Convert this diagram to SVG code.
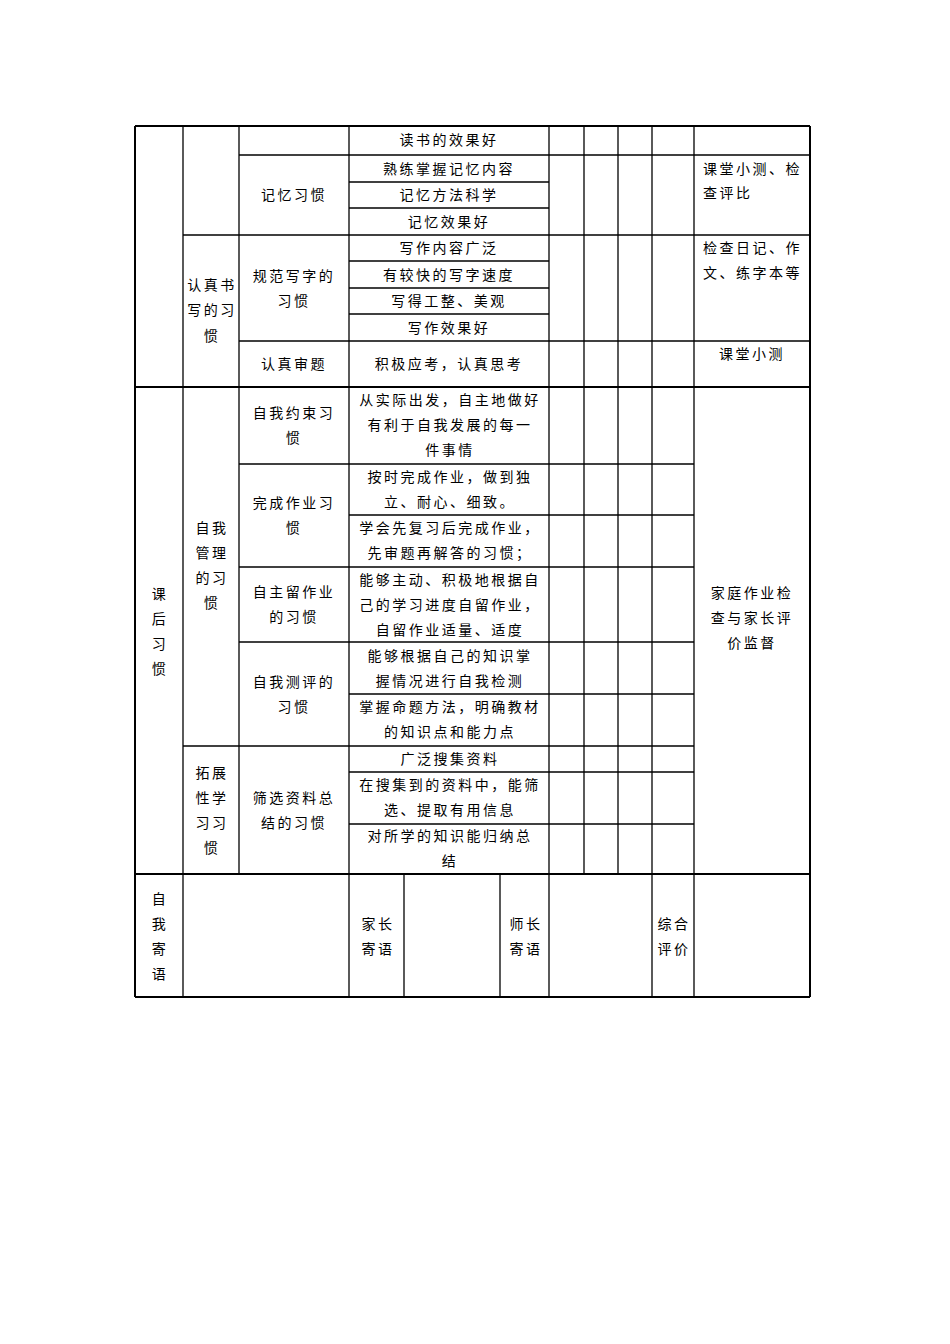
<svg xmlns="http://www.w3.org/2000/svg" width="950" height="1344" viewBox="0 0 950 1344">
<style>
line{stroke:#000;stroke-width:1.3}
.b{stroke-width:2}
text{font-family:"Noto Sans CJK SC","Liberation Serif",serif;font-size:14px;letter-spacing:2.5px;fill:#000;text-anchor:middle}
.l{text-anchor:start}
</style>
<rect width="950" height="1344" fill="#fff"/>
<g id="grid">
<line class="b" x1="135" y1="126" x2="810" y2="126"/>
<line class="b" x1="135" y1="997" x2="810" y2="997"/>
<line class="b" x1="135" y1="126" x2="135" y2="997"/>
<line class="b" x1="810" y1="126" x2="810" y2="997"/>
<line x1="183" y1="126" x2="183" y2="997"/>
<line x1="239" y1="126" x2="239" y2="874"/>
<line x1="349" y1="126" x2="349" y2="997"/>
<line x1="549" y1="126" x2="549" y2="997"/>
<line x1="584" y1="126" x2="584" y2="874"/>
<line x1="618" y1="126" x2="618" y2="874"/>
<line x1="652" y1="126" x2="652" y2="997"/>
<line x1="694" y1="126" x2="694" y2="997"/>
<line x1="404" y1="874" x2="404" y2="997"/>
<line x1="500" y1="874" x2="500" y2="997"/>
<line x1="239" y1="155" x2="810" y2="155"/>
<line x1="349" y1="182" x2="549" y2="182"/>
<line x1="349" y1="208" x2="549" y2="208"/>
<line x1="183" y1="235" x2="810" y2="235"/>
<line x1="349" y1="261" x2="549" y2="261"/>
<line x1="349" y1="288" x2="549" y2="288"/>
<line x1="349" y1="314" x2="549" y2="314"/>
<line x1="239" y1="341" x2="810" y2="341"/>
<line class="b" x1="135" y1="387" x2="810" y2="387"/>
<line x1="239" y1="464" x2="694" y2="464"/>
<line x1="349" y1="515" x2="694" y2="515"/>
<line x1="239" y1="567" x2="694" y2="567"/>
<line x1="239" y1="642" x2="694" y2="642"/>
<line x1="349" y1="694" x2="694" y2="694"/>
<line x1="183" y1="746" x2="694" y2="746"/>
<line x1="349" y1="772" x2="694" y2="772"/>
<line x1="349" y1="824" x2="694" y2="824"/>
<line class="b" x1="135" y1="874" x2="810" y2="874"/>
</g>
<g id="texts">
<text x="449" y="145">读书的效果好</text>
<text x="449" y="174">熟练掌握记忆内容</text>
<text x="449" y="200">记忆方法科学</text>
<text x="449" y="227">记忆效果好</text>
<text x="294" y="200">记忆习惯</text>
<text x="449" y="253">写作内容广泛</text>
<text x="449" y="280">有较快的写字速度</text>
<text x="449" y="306">写得工整、美观</text>
<text x="449" y="333">写作效果好</text>
<text x="294" y="281">规范写字的</text>
<text x="294" y="306">习惯</text>
<text x="212" y="290">认真书</text>
<text x="212" y="315">写的习</text>
<text x="212" y="341">惯</text>
<text x="294" y="369">认真审题</text>
<text x="449" y="369">积极应考，认真思考</text>
<text class="l" x="703" y="174">课堂小测、检</text>
<text class="l" x="703" y="198">查评比</text>
<text class="l" x="703" y="253">检查日记、作</text>
<text class="l" x="703" y="278">文、练字本等</text>
<text x="752" y="359">课堂小测</text>
<text x="160" y="599">课</text>
<text x="160" y="624">后</text>
<text x="160" y="649">习</text>
<text x="160" y="674">惯</text>
<text x="212" y="533">自我</text>
<text x="212" y="558">管理</text>
<text x="212" y="583">的习</text>
<text x="212" y="608">惯</text>
<text x="212" y="778">拓展</text>
<text x="212" y="803">性学</text>
<text x="212" y="828">习习</text>
<text x="212" y="853">惯</text>
<text x="294" y="418">自我约束习</text>
<text x="294" y="443">惯</text>
<text x="294" y="508">完成作业习</text>
<text x="294" y="533">惯</text>
<text x="294" y="597">自主留作业</text>
<text x="294" y="622">的习惯</text>
<text x="294" y="687">自我测评的</text>
<text x="294" y="712">习惯</text>
<text x="294" y="803">筛选资料总</text>
<text x="294" y="828">结的习惯</text>
<text x="450" y="405">从实际出发，自主地做好</text>
<text x="450" y="430">有利于自我发展的每一</text>
<text x="450" y="455">件事情</text>
<text x="450" y="482">按时完成作业，做到独</text>
<text x="450" y="507">立、耐心、细致。</text>
<text x="450" y="533">学会先复习后完成作业，</text>
<text x="450" y="558">先审题再解答的习惯；</text>
<text x="450" y="585">能够主动、积极地根据自</text>
<text x="450" y="610">己的学习进度自留作业，</text>
<text x="450" y="635">自留作业适量、适度</text>
<text x="450" y="661">能够根据自己的知识掌</text>
<text x="450" y="686">握情况进行自我检测</text>
<text x="450" y="712">掌握命题方法，明确教材</text>
<text x="450" y="737">的知识点和能力点</text>
<text x="450" y="764">广泛搜集资料</text>
<text x="450" y="790">在搜集到的资料中，能筛</text>
<text x="450" y="815">选、提取有用信息</text>
<text x="450" y="841">对所学的知识能归纳总</text>
<text x="450" y="866">结</text>
<text x="752" y="598">家庭作业检</text>
<text x="752" y="623">查与家长评</text>
<text x="752" y="648">价监督</text>
<text x="160" y="904">自</text>
<text x="160" y="929">我</text>
<text x="160" y="954">寄</text>
<text x="160" y="979">语</text>
<text x="378" y="929">家长</text>
<text x="378" y="954">寄语</text>
<text x="526" y="929">师长</text>
<text x="526" y="954">寄语</text>
<text x="674" y="929">综合</text>
<text x="674" y="954">评价</text>
</g>
</svg>
